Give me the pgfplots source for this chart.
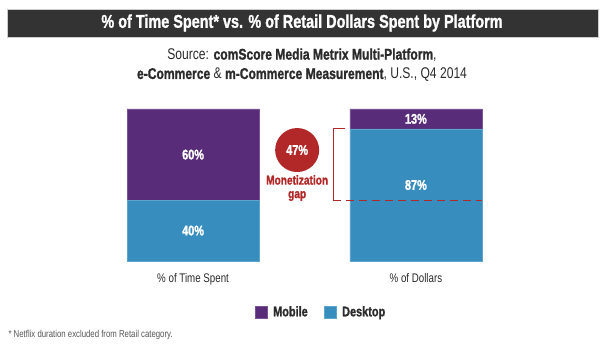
\documentclass[border=0pt]{standalone}
\usepackage{fontspec}
\setmainfont[FakeStretch=0.78, BoldFeatures={FakeBold=1.2}]{Liberation Sans}
\usepackage{pgfplots}
\pgfplotsset{compat=1.18}
\definecolor{mobile}{HTML}{582C78}
\definecolor{desktop}{HTML}{378DBE}
\definecolor{gapred}{HTML}{B22828}
\definecolor{titlebar}{HTML}{333333}
\definecolor{txt}{HTML}{2B2B2B}
\begin{document}
\begin{tikzpicture}[x=1pt,y=1pt]
% canvas
\path[use as bounding box] (0,0) rectangle (605,355);
% title bar
\fill[titlebar] (7,355-37) rectangle (598,355-9);
\draw[gray!40, line width=0.6pt] (7,355-37) rectangle (598,355-9);
\node[text=white, font=\fontsize{18.5}{18.5}\selectfont\bfseries] at (302,355-23) {\% of Time Spent* vs. \% of Retail Dollars Spent by Platform};
\node[text=txt, font=\fontsize{15.5}{15.5}\selectfont] at (302,355-55) {Source: \textbf{comScore Media Metrix Multi-Platform},};
\node[text=txt, font=\fontsize{15.5}{15.5}\selectfont] at (302,355-75) {\textbf{e-Commerce} \& \textbf{m-Commerce Measurement}, U.S., Q4 2014};
\node[text=txt!80, font=\fontsize{10}{10}\selectfont, anchor=west] at (5,355-335) {* Netflix duration excluded from Retail category.};
\begin{axis}[
  at={(127pt,94pt)}, anchor=south west,
  scale only axis, width=355pt, height=152pt,
  xmin=-0.2966, xmax=1.2966, ymin=0, ymax=100,
  ybar stacked, bar width=132pt,
  axis line style={draw=none},
  ytick=\empty,
  xtick={0,1}, xticklabels={\% of Time Spent,\% of Dollars},
  major tick length=0pt,
  xticklabel style={font=\fontsize{12.5}{12.5}\selectfont, text=txt, yshift=-9pt},
  clip=false,
  reverse legend,
  legend image code/.code={\fill[#1] (0pt,-6pt) rectangle (12pt,6pt); \path (16pt,0pt);},
  legend style={draw=none, fill=none, legend columns=2, at={(0.5465,-0.3355)}, anchor=center,
    font=\fontsize{14}{14}\selectfont\bfseries, text=txt,
    /tikz/every even column/.append style={column sep=14pt}},
]
\addplot[fill=desktop, draw=desktop!80!white] coordinates {(0,40) (1,87)};
\addlegendentry{Desktop}
\addplot[fill=mobile, draw=mobile!80!white] coordinates {(0,60) (1,13)};
\addlegendentry{Mobile}
\coordinate (l40) at (axis cs:0,20);
\coordinate (l60) at (axis cs:0,70);
\coordinate (l87) at (axis cs:1,50);
\coordinate (l13) at (axis cs:1,93.5);
\coordinate (btop) at (axis cs:0.683,87);
\coordinate (bcorner) at (axis cs:0.629,87);
\coordinate (bbot) at (axis cs:0.629,40);
\coordinate (dend) at (axis cs:1.2966,40);
\coordinate (circ) at (axis cs:0.467,73);
\coordinate (mon) at (axis cs:0.467,48);
\end{axis}
% value labels
\begin{scope}[every node/.style={text=white, font=\fontsize{14}{14}\selectfont\bfseries}]
\node at (l40) {40\%};
\node at (l60) {60\%};
\node at (l87) {87\%};
\node at (l13) {13\%};
\end{scope}
% bracket and gap line
\draw[gapred, line width=1.3pt] (btop) -- (bcorner) -- (bbot);
\draw[gapred, line width=1.3pt, dash pattern=on 8pt off 5pt] (bbot) -- (dend);
\fill[gapred] (circ) circle[radius=22pt];
\node[text=white, font=\fontsize{14}{14}\selectfont\bfseries] at (circ) {47\%};
\node[text=gapred, font=\fontsize{13}{13.5}\selectfont\bfseries, align=center] at (mon) {Monetization\\gap};
\end{tikzpicture}
\end{document}
